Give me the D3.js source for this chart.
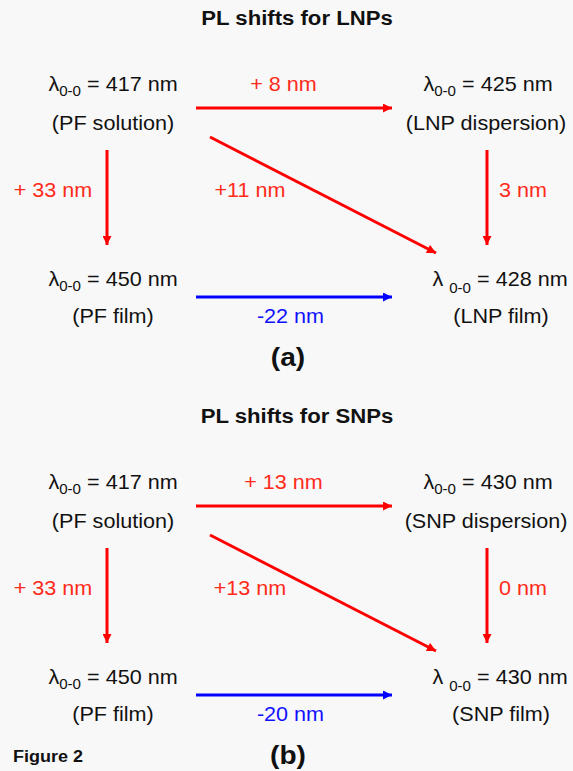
<!DOCTYPE html>
<html>
<head>
<meta charset="utf-8">
<script src="https://cdn.jsdelivr.net/npm/d3@7"></script>
<style>
  body { margin: 0; background: #f8f8f8; }
  svg { display: block; font-family: "Liberation Sans", Arial, sans-serif; }
</style>
</head>
<body>
<div id="fig"></div>
<script>
// data
const panelTitles = ['PL shifts for LNPs', 'PL shifts for SNPs'];
const panelTags = ['(a)', '(b)'];
const nodeKeys = ['solution', 'dispersion', 'film', 'npFilm'];
const lambdaA = [417, 425, 450, 428];
const lambdaB = [417, 430, 450, 430];
const namesA = ['PF solution', 'LNP dispersion', 'PF film', 'LNP film'];
const namesB = ['PF solution', 'SNP dispersion', 'PF film', 'SNP film'];
const shiftEdges = [['solution', 'dispersion'], ['solution', 'film'], ['dispersion', 'npFilm'], ['solution', 'npFilm'], ['film', 'npFilm']];
const shiftsA = ['+ 8 nm', '+ 33 nm', '3 nm', '+11 nm', '-22 nm'];
const shiftsB = ['+ 13 nm', '+ 33 nm', '0 nm', '+13 nm', '-20 nm'];
const figureLabel = 'Figure 2';

const W = 573, H = 771;
const SX = 1.08; // the original text is slightly stretched sideways
const FS = 20;
const RED = '#ff0000', BLUE = '#0000ff';

const svg = d3.select('#fig').append('svg').attr('width', W).attr('height', H);

const defs = svg.append('defs');
[['red', RED], ['blue', BLUE]].forEach(function (m) {
    defs.append('marker').attr('id', 'head-' + m[0])
        .attr('viewBox', '0 0 10 10').attr('refX', 10).attr('refY', 5)
        .attr('markerUnits', 'userSpaceOnUse')
        .attr('markerWidth', 10).attr('markerHeight', 9)
        .attr('orient', 'auto')
        .append('path').attr('d', 'M0,0L10,5L0,10Z').attr('fill', m[1]);
});

// layout scales
const panelY = d3.scalePoint().domain([0, 1]).range([0, 398]);
const colX = d3.scalePoint().domain([0, 1]).range([113, 488]);
const rowY = d3.scalePoint().domain([0, 1]).range([91, 286]);
const arrowY = d3.scalePoint().domain([0, 1]).range([108, 297]);
const nodePos = {
    solution: [0, 0],
    dispersion: [1, 0],
    film: [0, 1],
    npFilm: [1, 1]
};

function sText(g, x, y, str) {
    return g.append('text')
        .attr('transform', 'translate(' + x + ',' + y + ') scale(' + SX + ',1)')
        .attr('text-anchor', 'middle')
        .text(str);
}

function edgeGeom(from, to) {
    const a = nodePos[from], b = nodePos[to];
    if (a[1] === b[1]) {
        // horizontal
        const y = arrowY(a[1]);
        return {x1: colX(0) + 83, y1: y, x2: colX(1) - 96, y2: y,
            lx: (colX(0) + colX(1)) / 2 - 17 + a[1] * 7, ly: a[1] === 0 ? rowY(0) : rowY(1) + 37};
    }
    if (a[0] === b[0]) {
        // vertical
        const x = colX(a[0]) - (a[0] === 0 ? 6 : 1);
        return {x1: x, y1: rowY(0) + 59, x2: x, y2: rowY(1) - 41,
            lx: a[0] === 0 ? x - 54 : x + 36, ly: (rowY(0) + rowY(1)) / 2 + 8};
    }
    // diagonal
    return {x1: colX(0) + 97, y1: rowY(0) + 46, x2: colX(1) - 52, y2: rowY(1) - 33,
        lx: colX(0) + 137, ly: (rowY(0) + rowY(1)) / 2 + 8};
}

[[lambdaA, namesA, shiftsA], [lambdaB, namesB, shiftsB]].forEach(function (p, pi) {
    const lambdas = p[0], names = p[1], shifts = p[2];
    const g = svg.append('g').attr('transform', 'translate(0,' + panelY(pi) + ')');

    sText(g, 297, 25, panelTitles[pi])
        .attr('font-weight', 'bold').attr('font-size', 20.5).attr('fill', '#111');

    // arrows
    shiftEdges.forEach(function (e, i) {
        const geo = edgeGeom(e[0], e[1]);
        const neg = shifts[i].trim().startsWith('-');
        const col = neg ? BLUE : RED;
        g.append('line')
            .attr('x1', geo.x1).attr('y1', geo.y1)
            .attr('x2', geo.x2).attr('y2', geo.y2)
            .attr('stroke', col).attr('stroke-width', 3)
            .attr('marker-end', 'url(#head-' + (neg ? 'blue' : 'red') + ')');
        sText(g, geo.lx, geo.ly, shifts[i])
            .attr('font-size', FS).attr('fill', neg ? '#1010ff' : '#ff2a1a');
    });

    // nodes
    nodeKeys.forEach(function (k, i) {
        const pos = nodePos[k];
        const spaced = k === 'npFilm';
        const x = colX(pos[0]) + (spaced ? 12 : 0);
        const y = rowY(pos[1]);
        const t = sText(g, x, y, null).attr('font-size', FS).attr('fill', '#111');
        t.append('tspan').text(spaced ? 'λ ' : 'λ');
        t.append('tspan').attr('font-size', 14).attr('dy', spaced ? 7 : 5).text('0-0');
        t.append('tspan').attr('dy', spaced ? -7 : -5).text(' = ' + lambdas[i] + ' nm');
        sText(g, colX(pos[0]) + (spaced ? 13 : 0) - (pos[0] === 1 && pos[1] === 0 ? 2 : 0),
            y + (pos[1] === 0 ? 39 : 37), '(' + names[i] + ')')
            .attr('font-size', FS).attr('fill', '#111');
    });

    sText(g, 288, 366, panelTags[pi])
        .attr('font-weight', 'bold').attr('font-size', 26).attr('fill', '#111');
});

svg.append('text')
    .attr('transform', 'translate(13,762) scale(1.06,1)')
    .attr('font-weight', 'bold').attr('font-size', 17).attr('fill', '#111')
    .text(figureLabel);
</script>
</body>
</html>
